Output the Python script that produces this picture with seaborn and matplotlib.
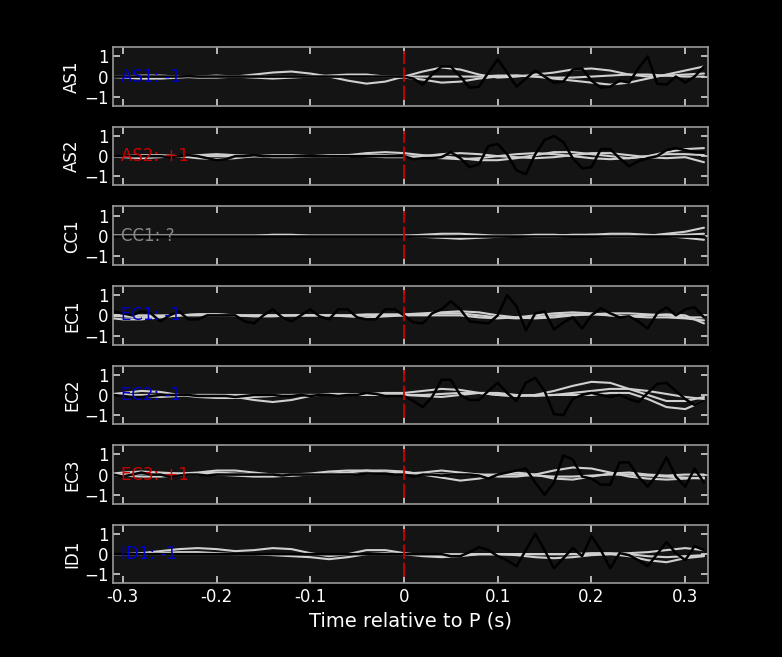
import numpy as np
import pandas as pd
import seaborn as sns
import matplotlib
matplotlib.use("Agg")
import matplotlib.pyplot as plt

# station names and polarity labels
stations = ["AS1", "AS2", "CC1", "EC1", "EC2", "EC3", "ID1"]
polarity = ["-1", "+1", "?", "-1", "-1", "+1", "-1"]
pol_colors = {"-1": "#0000cc", "+1": "#cc0000", "?": "#888888"}

# black trace sampled every 0.01 s from -0.32 to 0.32 (65 samples)
t_obs = np.round(np.arange(-32, 33) * 0.01, 2)
obs = {
    "AS1": [0, 0, 0, 0, 0, 0, 0, 0, 0, 0.02, 0, 0, 0, 0, 0, 0, 0,
            0, 0, 0, 0, 0, 0, 0, 0, 0, 0, 0, 0, 0, 0, 0, 0,
            -0.1, -0.4, 0.1, 0.5, 0.5, 0, -0.55, -0.5, 0.2, 0.85, 0.2, -0.5, -0.1, 0.3, 0, -0.3,
            -0.25, 0.35, 0.4, -0.2, -0.55, -0.5, -0.2, -0.3, 0.4, 1.0, -0.35, -0.4, 0, -0.3, 0.0, 0.5],
    "AS2": [0, 0, 0, 0, 0, 0, 0, -0.05, 0, 0.05, 0, -0.1, -0.2, -0.15, 0, 0, 0.05,
            0, 0, 0, 0, 0, 0, 0, 0, 0, 0, 0, 0, 0, 0, 0, 0,
            -0.15, -0.1, -0.1, -0.05, 0.2, -0.1, -0.55, -0.4, 0.5, 0.6, 0.1, -0.7, -0.9, 0.1, 0.8, 1.0,
            0.7, -0.1, -0.6, -0.55, 0.35, 0.35, -0.1, -0.5, -0.25, -0.1, 0, 0.3, 0.4, 0.3, 0.2, 0.2],
    "CC1": [0] * 65,
    "EC1": [0, 0.2, 0.1, 0, 0.2, 0.1, -0.3, 0, 0.2, -0.2, -0.2, 0, 0, 0, 0, -0.3, -0.4,
            0, 0.3, -0.1, -0.3, 0, 0.3, -0.05, -0.2, 0.3, 0.3, -0.1, -0.2, -0.2, 0.3, 0.3, 0,
            -0.35, -0.4, 0.1, 0.3, 0.7, 0.3, -0.3, -0.35, -0.4, 0, 1.0, 0.45, -0.75, 0.1, 0.2, -0.7,
            -0.35, -0.1, -0.65, 0, 0.35, 0.1, -0.1, -0.05, -0.3, -0.65, 0.1, 0.4, 0, 0.3, 0.4, -0.1],
    "EC2": [0, 0, -0.05, -0.1, -0.1, -0.05, 0, 0, 0, 0, -0.05, -0.05, -0.05, -0.05, -0.1, -0.05, 0,
            0, 0, -0.05, -0.05, 0, -0.05, 0, 0, -0.05, 0, 0, 0.1, 0.05, -0.05, -0.05, -0.05,
            -0.3, -0.6, -0.1, 0.75, 0.75, 0, -0.25, -0.25, 0.2, 0.6, 0.1, -0.3, 0.6, 0.85, 0.2, -0.95,
            -1.0, -0.2, 0, 0.1, 0, -0.1, 0, -0.2, -0.35, 0.1, 0.55, 0.6, 0.2, -0.2, -0.5, -0.3],
    "EC3": [0, 0, -0.1, 0, 0.1, 0, 0, -0.1, -0.05, 0, 0, -0.05, 0, 0, 0, 0, 0,
            0, 0, -0.05, 0, 0, 0, 0, 0, 0, 0, 0, 0.05, 0.05, 0.05, 0, 0,
            -0.1, 0, 0, -0.05, 0, 0, 0, -0.05, -0.2, 0, 0.1, 0.2, 0.3, -0.4, -1.0, -0.4, 0.95,
            0.75, -0.1, -0.2, -0.5, -0.5, 0.6, 0.6, -0.1, -0.6, 0.0, 0.85, -0.1, -0.6, 0.3, -0.4],
    "ID1": [0, 0, 0, 0, 0, 0, 0, 0, 0, 0, 0, 0, 0, 0, 0, 0, 0,
            0, 0, 0, 0, 0, 0, 0, 0, 0, 0, 0, 0, 0, 0, 0, 0,
            0, 0, 0, 0, -0.1, -0.1, 0.1, 0.35, 0.2, -0.1, -0.3, -0.6, 0.2, 1.0, 0.2, -0.7,
            -0.2, 0.3, -0.1, 0.9, 0.2, -0.7, 0.05, -0.05, -0.3, -0.6, 0, 0.6, 0.05, -0.3, 0.4, 0.2],
}

# grey synthetic traces sampled every 0.02 s (33 samples), three per station
t_syn = np.round(np.arange(-16, 17) * 0.02, 2)
syn = {
    "AS1": [
        [0, 0, 0.05, 0.05, 0, -0.05, -0.05, 0, 0.1, 0.2, 0.25, 0.15, 0, -0.2, -0.35, -0.25, 0,
         0.25, 0.45, 0.35, 0.1, -0.05, 0, 0.1, 0.2, 0.35, 0.4, 0.3, 0.1, 0, 0.05, 0.1, 0.15],
        [0, -0.05, -0.1, -0.1, -0.05, 0, 0.05, 0, -0.05, -0.1, -0.05, 0, 0.05, 0.1, 0.1, 0, 0,
         0, 0, 0, 0, 0.05, 0.05, 0, -0.05, -0.05, 0, 0.05, 0.1, 0.1, 0.05, 0, 0],
        [0, 0, 0, 0, 0, 0, 0, 0, 0, 0, 0, 0, 0, 0, 0, 0, -0.05,
         -0.15, -0.3, -0.25, -0.1, 0, 0.05, 0, -0.1, -0.2, -0.3, -0.4, -0.3, -0.1, 0.1, 0.3, 0.5],
    ],
    "AS2": [
        [0, 0, 0.05, 0.05, 0, -0.1, -0.15, -0.1, 0, 0.05, 0.05, 0, 0, 0.05, 0.15, 0.2, 0.15,
         0.05, 0, -0.1, -0.2, -0.2, -0.1, 0.05, 0.2, 0.2, 0.1, 0, -0.1, 0, 0.2, 0.35, 0.4],
        [0, -0.05, -0.1, -0.05, 0, 0.05, 0.1, 0.05, 0, -0.05, -0.05, 0, 0.05, 0.05, 0, -0.05, -0.05,
         0, 0.1, 0.15, 0.1, 0, -0.05, -0.1, -0.05, 0.05, 0.15, 0.15, 0.05, -0.05, -0.1, -0.05, -0.3],
        [0, 0, 0, 0, 0, 0, 0, 0, 0, 0, 0, 0, 0, 0, 0.05, 0.05, 0,
         -0.05, -0.1, -0.15, -0.1, 0, 0.1, 0.15, 0.1, 0, -0.1, -0.15, -0.1, 0, 0.1, 0.1, 0.05],
    ],
    "CC1": [
        [0, 0, 0, 0, 0, 0, 0, 0, 0, 0.05, 0.05, 0, 0, 0, 0, 0, 0,
         -0.05, -0.1, -0.15, -0.1, -0.05, 0, 0, 0, 0.05, 0.05, 0, 0, 0, 0.1, 0.2, 0.4],
        [0, 0, 0, 0, 0, 0, 0, 0, 0, 0, 0, 0, 0, 0, 0, 0, 0,
         0.05, 0.1, 0.1, 0.05, 0, 0, -0.05, -0.05, 0, 0.05, 0.1, 0.1, 0.05, 0, -0.1, -0.2],
        [0, 0, 0, 0, 0, 0, 0, 0, 0, 0, 0, 0, 0, 0, 0, 0, 0,
         0, 0, -0.05, -0.05, 0, 0, 0.05, 0.05, 0, 0, -0.05, -0.05, 0, 0.05, 0.05, 0.1],
    ],
    "EC1": [
        [-0.1, -0.2, -0.2, -0.1, 0, 0.05, 0.05, 0, 0, 0, 0, 0, 0, 0, 0.05, 0.05, 0.05,
         0.1, 0.15, 0.2, 0.15, 0, -0.1, -0.15, -0.1, 0, 0.05, 0.1, 0.1, 0.05, 0, -0.1, -0.1],
        [0, -0.05, -0.1, -0.05, 0, 0.05, 0.05, 0, -0.05, -0.05, 0, 0, 0, -0.05, -0.1, -0.05, 0,
         0.05, 0.1, 0.1, 0, -0.1, -0.15, -0.1, 0, 0.05, 0.05, 0, -0.05, 0, 0.05, 0, -0.4],
        [0, 0, 0, 0, 0, 0, 0, 0, 0, 0, 0, 0, 0, 0, 0, 0, 0,
         0, 0, 0, -0.1, -0.15, -0.1, 0, 0.1, 0.15, 0.1, 0, -0.05, -0.1, -0.1, -0.15, -0.25],
    ],
    "EC2": [
        [0, 0.1, 0.2, 0.15, 0, -0.1, -0.15, -0.15, -0.1, -0.05, 0, 0, 0, 0, 0.05, 0.1, 0.1,
         0.2, 0.3, 0.25, 0.1, 0, -0.05, 0, 0.2, 0.45, 0.65, 0.6, 0.3, 0, -0.3, -0.3, -0.1],
        [0, 0, -0.05, -0.1, -0.05, 0, 0, -0.1, -0.25, -0.35, -0.25, -0.05, 0.05, 0.05, 0, 0, 0,
         0, 0.05, 0.1, 0.1, 0, -0.05, 0, 0, 0, 0, 0.1, 0.1, -0.2, -0.6, -0.7, -0.3],
        [0, 0, 0, 0, 0, 0, 0, 0, 0, 0, 0, 0, 0, 0, 0, 0, 0,
         -0.05, -0.1, 0, 0.1, 0.1, 0, -0.05, 0, 0.1, 0.2, 0.3, 0.3, 0.2, 0.05, -0.1, -0.2],
    ],
    "EC3": [
        [0, 0.1, 0.15, 0.1, 0.05, 0.1, 0.2, 0.2, 0.1, 0, 0, 0.05, 0.15, 0.2, 0.2, 0.1, 0.05,
         0.1, 0.2, 0.1, 0, -0.1, -0.1, 0, 0.2, 0.35, 0.3, 0.1, -0.1, -0.2, -0.25, -0.2, -0.15],
        [0, -0.05, -0.1, -0.1, -0.05, 0.05, 0.1, 0.05, 0, -0.05, -0.05, 0, 0.05, 0.1, 0.2, 0.2, 0.15,
         0, -0.15, -0.3, -0.2, 0, 0.1, 0, -0.2, -0.25, -0.1, 0.05, 0.1, 0, -0.05, 0, 0],
        [0, 0, 0.05, 0.05, 0.05, 0, 0, -0.05, -0.1, -0.1, -0.05, 0, 0, 0, 0.05, 0.1, 0.1,
         0.05, 0, 0, 0, 0, 0, -0.05, -0.1, -0.1, -0.05, 0, 0, -0.05, -0.1, -0.15, -0.2],
    ],
    "ID1": [
        [0, 0, 0.05, 0.15, 0.25, 0.3, 0.25, 0.15, 0.2, 0.3, 0.25, 0.05, -0.1, 0, 0.2, 0.2, 0.05,
         -0.05, -0.1, -0.05, 0, 0, 0, 0, 0, 0, 0, 0, 0.05, 0.1, 0.2, 0.3, 0.2],
        [0, 0, 0, 0.05, 0.1, 0.1, 0.05, 0, 0, -0.05, -0.1, -0.15, -0.25, -0.15, 0, 0.05, 0,
         -0.1, -0.15, -0.1, 0, 0, -0.05, -0.15, -0.2, -0.15, -0.05, 0, -0.1, -0.3, -0.4, -0.2, -0.1],
        [0, 0, 0, 0, 0, 0, 0, 0, 0, 0, 0, 0, 0, 0, 0, 0, 0,
         0, 0, 0, 0, 0, 0, 0, 0, 0, 0.05, 0.05, 0, -0.1, -0.15, -0.1, -0.05],
    ],
}

sns.set_theme(style="dark")
plt.rcParams["font.family"] = ["DejaVu Sans"]

fig, axes = plt.subplots(len(stations), 1, figsize=(7.82, 6.57), dpi=100, sharex=True)
fig.patch.set_facecolor("black")
fig.subplots_adjust(left=0.145, right=0.905, top=0.928, bottom=0.112, hspace=0.36)

for ax, st, pol in zip(axes, stations, polarity):
    ax.set_facecolor("#141414")
    for k, curve in enumerate(syn[st]):
        df = pd.DataFrame({"t": t_syn, "v": curve})
        sns.lineplot(data=df, x="t", y="v", ax=ax, color="#d0d0d0", lw=1.5)
    df = pd.DataFrame({"t": t_obs, "v": obs[st]})
    sns.lineplot(data=df, x="t", y="v", ax=ax, color="black", lw=1.8)
    ax.plot([0, 0], [-1.15, 1.25], color="#cc0000", lw=1.3, ls=(0, (8, 2)))
    ax.text(-0.302, 0, f"{st}: {pol}", color=pol_colors[pol], fontsize=12, va="center")
    ax.set_xlim(-0.31, 0.324)
    ax.set_ylim(-1.45, 1.45)
    ax.set_yticks([-1, 0, 1])
    ax.set_xticks([-0.3, -0.2, -0.1, 0, 0.1, 0.2, 0.3])
    ax.set_xticklabels(["-0.3", "-0.2", "-0.1", "0", "0.1", "0.2", "0.3"])
    ax.set_ylabel(st, color="white", fontsize=12, labelpad=2)
    ax.set_xlabel("")
    ax.grid(False)
    ax.tick_params(direction="in", colors="#cccccc", labelcolor="white", labelsize=12,
                   length=5, top=True, right=True, bottom=True, left=True)
    for s in ax.spines.values():
        s.set_color("#999999")
        s.set_linewidth(1.2)

axes[-1].set_xlabel("Time relative to P (s)", color="white", fontsize=14)

fig.savefig("out.png", facecolor="black")
